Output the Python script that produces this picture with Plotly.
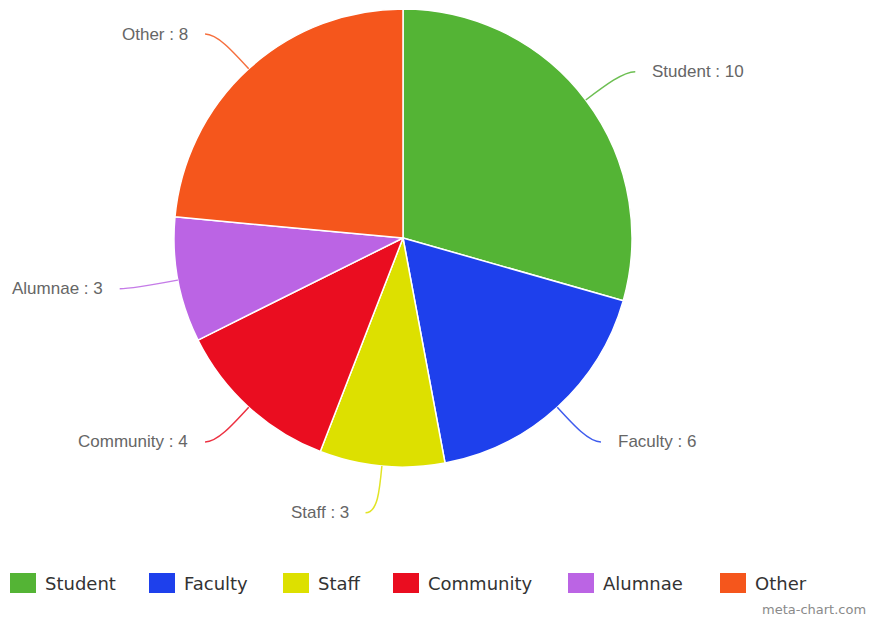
import math
import plotly.graph_objects as go

# Survey respondents by group
groups = ["Student", "Faculty", "Staff", "Community", "Alumnae", "Other"]
counts = [10, 6, 3, 4, 3, 8]
colors = ["#54b435", "#1e40ec", "#dde000", "#ea0d20", "#bb64e4", "#f5561c"]

W, H = 877, 618
CX, CY, R = 403, 238, 229          # pie centre and radius in pixels

def px(x, y):
    """Pixel position -> paper coordinates."""
    return x / W, 1 - y / H

fig = go.Figure(go.Pie(
    labels=groups,
    values=counts,
    sort=False,
    direction="clockwise",
    rotation=0,
    marker=dict(colors=colors, line=dict(color="white", width=1.5)),
    textinfo="none",
    showlegend=False,
    domain=dict(x=[(CX - R) / W, (CX + R) / W],
                y=[1 - (CY + R) / H, 1 - (CY - R) / H]),
))

shapes = []
annotations = []
total = sum(counts)
cum = 0
for name, val, col in zip(groups, counts, colors):
    mid = (cum + val / 2) / total * 2 * math.pi
    cum += val
    dx, dy = math.sin(mid), -math.cos(mid)
    side = 1 if dx >= 0 else -1
    x0, y0 = CX + R * dx, CY + R * dy
    x1, y1 = CX + (R + 25) * dx, CY + (R + 25) * dy
    x2, y2 = CX + (R + 47) * dx, CY + (R + 47) * dy
    x3, y3 = x2 + side * 12, y2
    pts = [px(*p) for p in [(x0, y0), (x1, y1), (x2, y2), (x3, y3)]]
    path = "M {:.5f},{:.5f} C {:.5f},{:.5f} {:.5f},{:.5f} {:.5f},{:.5f}".format(
        *[c for p in pts for c in p])
    shapes.append(dict(type="path", path=path, xref="paper", yref="paper",
                       line=dict(color=col, width=1.5), opacity=0.85))
    tx, ty = px(x3 + side * 15, y3)
    annotations.append(dict(
        text=f"{name} : {val}", x=tx, y=ty, xref="paper", yref="paper",
        xanchor="left" if side > 0 else "right", yanchor="middle",
        showarrow=False, font=dict(family="Liberation Sans, Arial", size=17, color="#666666"),
    ))

# Legend row beneath the pie
legend_x = [10, 149, 283, 393, 568, 720]
for name, col, lx in zip(groups, colors, legend_x):
    xa, ya = px(lx, 573)
    xb, yb = px(lx + 26, 593)
    shapes.append(dict(type="rect", xref="paper", yref="paper",
                       x0=xa, x1=xb, y0=yb, y1=ya,
                       fillcolor=col, line=dict(width=0)))
    tx, ty = px(lx + 33, 583)
    annotations.append(dict(
        text=name, x=tx, y=ty, xref="paper", yref="paper",
        xanchor="left", yanchor="middle", showarrow=False,
        font=dict(family="DejaVu Sans", size=18, color="#333333"),
    ))

wx, wy = px(868, 609)
annotations.append(dict(
    text="meta-chart.com", x=wx, y=wy, xref="paper", yref="paper",
    xanchor="right", yanchor="middle", showarrow=False,
    font=dict(family="DejaVu Sans", size=13, color="#8a8a8a"),
))

fig.update_layout(
    width=W, height=H,
    margin=dict(l=0, r=0, t=0, b=0),
    paper_bgcolor="white", plot_bgcolor="white",
    shapes=shapes, annotations=annotations,
)

fig.write_html("out.html")
